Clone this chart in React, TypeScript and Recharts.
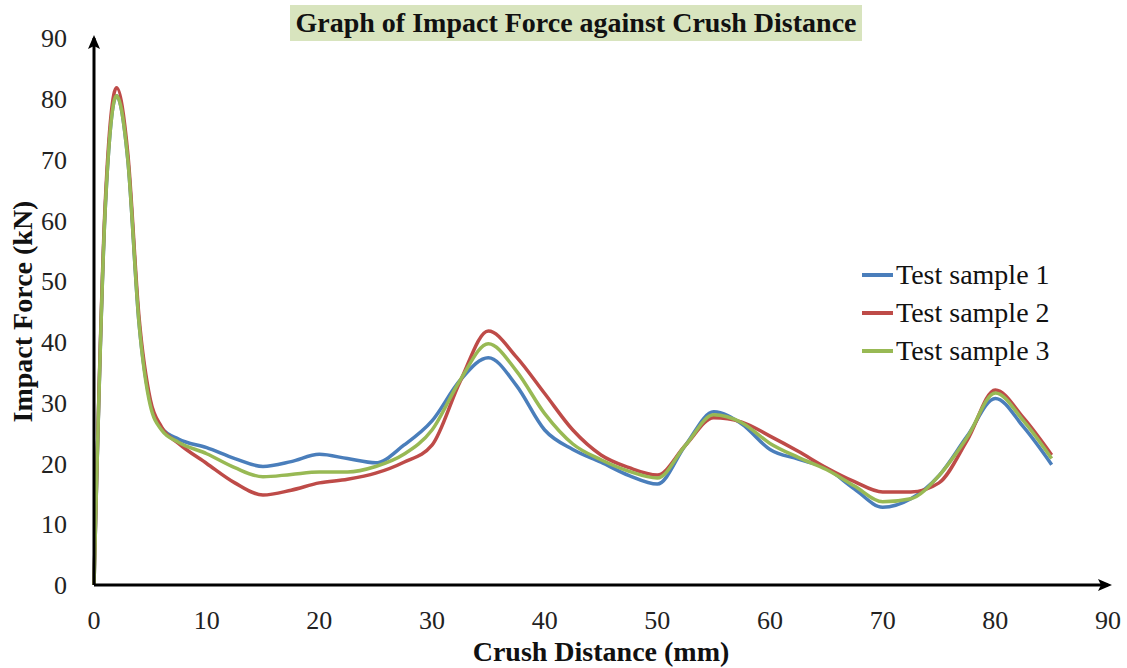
import React from "react";
import {
  LineChart, Line, XAxis, YAxis, ReferenceDot, Label,
} from "recharts";

// ── Data ───────────────────────────────────────────────────

const distance = [
  0, 1, 2, 3, 4, 5, 6, 7.5, 10, 12.5, 15, 17.5, 20, 22.5, 25, 27.5, 30, 32.5, 35,
  37.5, 40, 42.5, 45, 47.5, 50, 52.5, 55, 57.5, 60, 62.5, 65, 67.5, 70, 72.5, 75,
  77.5, 80, 82.5, 85,
];

const sample1 = [
  0, 62, 80.5, 70, 43, 30, 25.8, 24, 22.6, 20.8, 19.5, 20.3, 21.5, 20.8, 20.1, 23,
  27, 33.7, 37.4, 32.8, 25.5, 22.3, 20.2, 18, 16.6, 23, 28.5, 26.5, 22.3, 20.7, 19.2,
  15.8, 12.8, 14.2, 18, 24.5, 30.7, 26, 19.8,
];

const sample2 = [
  0, 63, 81.8, 71, 44, 30.5, 26, 23.3, 20, 16.8, 14.8, 15.6, 16.8, 17.4, 18.4, 20.2,
  23, 33.5, 41.8, 37.5, 31.5, 25.5, 21.4, 19.3, 18.1, 23, 27.5, 26.8, 24.5, 22, 19.3,
  17, 15.3, 15.3, 16.8, 23.8, 32.1, 27.5, 21.4,
];

const sample3 = [
  0, 62, 80.5, 70, 43, 29.5, 25.5, 23.5, 21.6, 19.3, 17.8, 18.2, 18.6, 18.6, 19.5,
  21.5, 25.5, 33.7, 39.7, 35.2, 28.2, 23.2, 20.6, 18.7, 17.6, 23, 28, 26.7, 23.3, 21,
  19, 16.3, 13.7, 14.2, 18, 24.3, 31.6, 27, 20.8,
];

const ticks = [0, 10, 20, 30, 40, 50, 60, 70, 80, 90];

const series = [
  { key: "s1", name: "Test sample 1", color: "#4A7EBB" },
  { key: "s2", name: "Test sample 2", color: "#BE4B48" },
  { key: "s3", name: "Test sample 3", color: "#98B954" },
];

const rows = distance.map((x, i) => ({ x, s1: sample1[i], s2: sample2[i], s3: sample3[i] }));

// ── Styles ─────────────────────────────────────────────────

const SERIF = "'Liberation Serif', 'Times New Roman', serif";
const tickStyle = { fontFamily: SERIF, fontSize: 26, fill: "#222" };
const titleStyle = { fontFamily: SERIF, fontWeight: "bold", fontSize: 28, fill: "#111" };

// ── Helpers ────────────────────────────────────────────────

function UpArrow({ cx, cy }: any) {
  return <polygon points={`${cx},${cy - 3} ${cx - 6},${cy + 11} ${cx},${cy + 8} ${cx + 6},${cy + 11}`} fill="#000" />;
}

function RightArrow({ cx, cy }: any) {
  return <polygon points={`${cx + 4},${cy} ${cx - 10},${cy - 6} ${cx - 7},${cy} ${cx - 10},${cy + 6}`} fill="#000" />;
}

function LegendBox() {
  return (
    <div style={{ position: "absolute", left: 862, top: 256, fontFamily: SERIF, fontSize: 28, color: "#111" }}>
      {series.map((s) => (
        <div key={s.key} style={{ display: "flex", alignItems: "center", height: 38 }}>
          <span style={{ display: "inline-block", width: 31, height: 4, background: s.color, marginRight: 3 }} />
          <span>{s.name}</span>
        </div>
      ))}
    </div>
  );
}

// ── Component ──────────────────────────────────────────────

export default function App() {
  return (
    <div style={{ position: "absolute", left: 0, top: 0, width: 1127, height: 668, background: "#fff" }}>
      {/* Title */}
      <div
        style={{
          position: "absolute", left: 290, top: 5, width: 572, height: 36,
          background: "#D8E4BE", fontFamily: SERIF, fontWeight: "bold", fontSize: 28,
          lineHeight: "36px", textAlign: "center", color: "#111", zIndex: 1,
        }}
      >
        Graph of Impact Force against Crush Distance
      </div>

      <LineChart width={1127} height={668} data={rows} margin={{ top: 38, right: 19, bottom: 43, left: 34 }}>
        <XAxis
          dataKey="x" type="number" domain={[0, 90]} ticks={ticks} interval={0}
          tickLine={false} tickSize={0} tickMargin={26} tick={tickStyle}
          axisLine={{ stroke: "#000", strokeWidth: 3 }} height={40}
        >
          <Label value="Crush Distance (mm)" position="bottom" offset={16} style={titleStyle} />
        </XAxis>
        <YAxis
          type="number" domain={[0, 90]} ticks={ticks} interval={0}
          tickLine={false} tickSize={0} tickMargin={27} tick={tickStyle}
          axisLine={{ stroke: "#000", strokeWidth: 3 }} width={60}
        >
          <Label
            value="Impact Force (kN)" angle={-90} position="insideLeft" offset={-12}
            style={{ ...titleStyle, textAnchor: "middle" }}
          />
        </YAxis>
        {series.map((s) => (
          <Line
            key={s.key} type="monotone" dataKey={s.key} name={s.name} stroke={s.color}
            strokeWidth={3.5} dot={false} isAnimationActive={false}
          />
        ))}
        <ReferenceDot x={0} y={90} r={0} ifOverflow="visible" shape={UpArrow} />
        <ReferenceDot x={90} y={0} r={0} ifOverflow="visible" shape={RightArrow} />
      </LineChart>

      <LegendBox />
    </div>
  );
}
